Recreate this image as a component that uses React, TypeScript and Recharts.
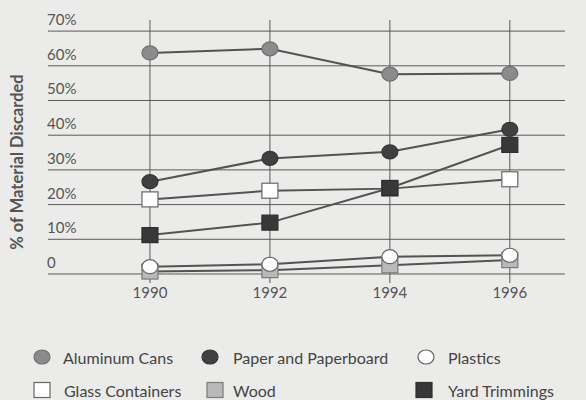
import { LineChart, Line, XAxis, YAxis, CartesianGrid } from 'recharts'

const years = [1990, 1992, 1994, 1996]
const yTicks = [0, 10, 20, 30, 40, 50, 60, 70]

const aluminumCans = [63.7, 64.9, 57.6, 57.8]
const paperAndPaperboard = [26.6, 33.3, 35.2, 41.7]
const plastics = [2.1, 2.8, 5.0, 5.4]
const glassContainers = [21.5, 24.0, 24.6, 27.3]
const wood = [0.7, 1.1, 2.5, 4.0]
const yardTrimmings = [11.2, 14.8, 24.8, 37.2]

const data = years.map((year, i) => ({
  year,
  aluminum: aluminumCans[i],
  paper: paperAndPaperboard[i],
  plastics: plastics[i],
  glass: glassContainers[i],
  wood: wood[i],
  yard: yardTrimmings[i],
}))

const FONT = 'Lato, sans-serif'
const TEXT = '#555'
const LINE = '#535353'

type Marker = { shape: 'circle' | 'square'; fill: string; stroke: string }

const MARKERS: Record<string, Marker> = {
  aluminum: { shape: 'circle', fill: '#8b8b8b', stroke: '#707070' },
  paper: { shape: 'circle', fill: '#404040', stroke: '#353535' },
  plastics: { shape: 'circle', fill: '#ffffff', stroke: '#666' },
  glass: { shape: 'square', fill: '#ffffff', stroke: '#666' },
  wood: { shape: 'square', fill: '#b9b9b9', stroke: '#7a7a7a' },
  yard: { shape: 'square', fill: '#383838', stroke: '#2e2e2e' },
}

// legend layout (two rows, as in the print original)
const LEGEND = [
  { key: 'aluminum', label: 'Aluminum Cans', x: 42, y: 357, tx: 63 },
  { key: 'paper', label: 'Paper and Paperboard', x: 210, y: 357, tx: 233 },
  { key: 'plastics', label: 'Plastics', x: 426, y: 357, tx: 448 },
  { key: 'glass', label: 'Glass Containers', x: 42, y: 390, tx: 64 },
  { key: 'wood', label: 'Wood', x: 215, y: 390, tx: 233 },
  { key: 'yard', label: 'Yard Trimmings', x: 424, y: 390, tx: 448 },
]

function markerShape(m: Marker, cx: number, cy: number, key?: string) {
  if (m.shape === 'circle') {
    return <ellipse key={key} cx={cx} cy={cy} rx={8} ry={7} fill={m.fill} stroke={m.stroke} strokeWidth={1.2} />
  }
  return <rect key={key} x={cx - 8} y={cy - 7.5} width={16} height={15} fill={m.fill} stroke={m.stroke} strokeWidth={1.2} />
}

const makeDot = (name: string) => (props: any) => {
  const { cx, cy, index } = props
  if (cx == null || cy == null) return <g key={`${name}-${index}`} />
  return markerShape(MARKERS[name], cx, cy, `${name}-${index}`)
}

const YTick = (props: any) => {
  const { y, payload } = props
  const v = payload.value
  return (
    <text x={47} y={y - 6} textAnchor="start" fill={TEXT} fontSize={15} fontFamily={FONT}>
      {v === 0 ? '0' : `${v}%`}
    </text>
  )
}

const XTick = (props: any) => {
  const { x, y, payload } = props
  return (
    <text x={x} y={y + 7} textAnchor="middle" fill={TEXT} fontSize={15} fontFamily={FONT}>
      {payload.value}
    </text>
  )
}

const ORDER = ['aluminum', 'paper', 'wood', 'glass', 'yard', 'plastics']

export default function App() {
  return (
    <div
      style={{
        position: 'absolute',
        left: 0,
        top: 0,
        width: 586,
        height: 400,
        background: '#ebebe9',
        fontFamily: FONT,
        overflow: 'hidden',
      }}
    >
      <LineChart
        width={586}
        height={400}
        data={data}
        margin={{ top: 20, right: 21, bottom: 97, left: 0 }}
      >
        <CartesianGrid
          stroke="#5a5a5a"
          strokeWidth={1}
          horizontalValues={yTicks}
          verticalValues={years}
        />
        <XAxis
          dataKey="year"
          type="number"
          domain={[1988.3, 1996.92]}
          ticks={years}
          axisLine={false}
          tickLine={false}
          height={20}
          tick={<XTick />}
          interval={0}
        />
        <YAxis
          type="number"
          domain={[-2.6, 73.2]}
          ticks={yTicks}
          axisLine={false}
          tickLine={false}
          width={48}
          tick={<YTick />}
          interval={0}
        />
        {ORDER.map((k) => (
          <Line
            key={k}
            dataKey={k}
            stroke={LINE}
            strokeWidth={2}
            dot={makeDot(k)}
            activeDot={false}
            isAnimationActive={false}
          />
        ))}
        <text
          x={19}
          y={162}
          transform="rotate(-90 19 162)"
          textAnchor="middle"
          dominantBaseline="middle"
          fill={TEXT}
          fontSize={16.5}
          fontWeight={700}
          fontFamily={FONT}
        >
          % of Material Discarded
        </text>
        {LEGEND.map((l) => (
          <g key={l.key}>
            {markerShape(MARKERS[l.key], l.x, l.y)}
            <text x={l.tx} y={l.y} dominantBaseline="central" fill="#444" fontSize={16} fontFamily={FONT}>
              {l.label}
            </text>
          </g>
        ))}
      </LineChart>
    </div>
  )
}
